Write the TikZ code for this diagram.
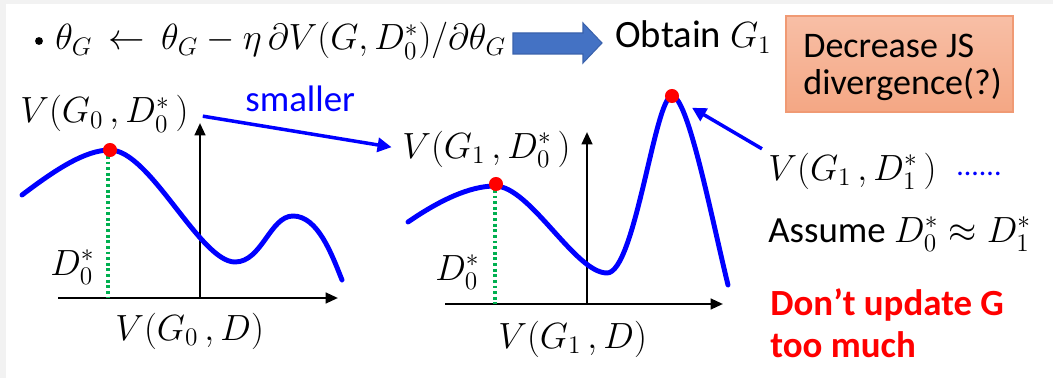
\documentclass[tikz,border=0pt]{standalone}
\usepackage{fontspec}
\setmainfont{Carlito}
\usetikzlibrary{arrows.meta}
\definecolor{blockblue}{HTML}{4472C4}
\definecolor{blockedge}{HTML}{3A62AC}
\definecolor{boxtop}{HTML}{F8BFA6}
\definecolor{boxbot}{HTML}{F4A784}
\definecolor{boxedge}{HTML}{F09A74}
\definecolor{guidegreen}{HTML}{00B050}
\definecolor{slidegray}{HTML}{F2F2F2}
\begin{document}
\begin{tikzpicture}[x=0.02cm, y=-0.02cm,
    txt/.style={inner sep=0pt, font=\fontsize{21}{24}\selectfont},
    curve/.style={line width=2.8pt, blue, line cap=round},
    axis/.style={line width=1.4pt, -{Triangle[length=7pt,width=6pt]}},
    guide/.style={guidegreen, line width=1.8pt, dash pattern=on 1.6pt off 1.6pt},
    reddot/.style={circle, fill=red, inner sep=0pt, minimum size=8pt},
    pointer/.style={blue, line width=2pt, -{Triangle[length=8pt,width=8pt]}}]
    % --- 背景 ---
    \fill[slidegray] (0,0) rectangle (1053,378);
    \fill[white] (6,4) rectangle (1053,378);

    % --- 第一行：更新公式 ---
    \node[circle, fill=black, inner sep=0pt, minimum size=4.5pt] (bullet) at (39,41) {};
    \node[txt, font=\fontsize{22}{24}\selectfont, anchor=base west] (update) at (55,50)
        {$\theta_G \,\leftarrow\, \theta_G - \eta\,\partial V(G,D_0^*)/\partial\theta_G$};
    % 蓝色块箭头
    \fill[blockblue, draw=blockedge, line width=0.6pt]
        (513,33) -- (583,33) -- (583,23) -- (602,43) -- (583,63) -- (583,54) -- (513,54) -- cycle;
    \node[txt, font=\fontsize{22}{24}\selectfont, anchor=base west] (obtain) at (615,48) {Obtain $G_1$};
    % 橙色框
    \path[draw=boxedge, line width=0.8pt, top color=boxtop, bottom color=boxbot]
        (786,16) rectangle (1013,112);
    \node[txt, font=\fontsize{20.5}{21.5}\selectfont, align=left, anchor=base west] (jstext) at (803,95)
        {Decrease JS\\divergence(?)};

    % --- 左图：G0 ---
    \coordinate (o0) at (200,298);
    \draw[axis] (58,298) -- (338,298);
    \draw[axis] (o0) -- (200,123);
    \draw[curve] (22,195) .. controls (55,170) and (85,150) .. (110,150)
        .. controls (150,150) and (200,262) .. (235,262)
        .. controls (262,262) and (270,216) .. (293,216)
        .. controls (318,216) and (332,255) .. (342,280);
    \draw[guide] (108,156) -- (108,298);
    \node[reddot] (p0) at (110,150) {};
    \node[txt, anchor=base west] (v00) at (20,123) {$V(G_0\,,D_0^*\,)$};
    \node[txt, anchor=base west] (d0a) at (50,275) {$D_0^*$};
    \node[txt, anchor=base west] (v0d) at (115,340) {$V(G_0\,,D)$};

    % --- smaller 箭头 ---
    \node[txt, blue, anchor=base west] (smaller) at (245,112) {smaller};

    % --- 右图：G1 ---
    \coordinate (o1) at (587,304);
    \draw[axis] (445,304) -- (723,304);
    \draw[axis] (o1) -- (587,132);
    \draw[curve] (408,222) .. controls (440,200) and (470,186) .. (495,186)
        .. controls (530,186) and (575,273) .. (607,273)
        .. controls (635,273) and (655,96) .. (672,96)
        .. controls (688,96) and (712,220) .. (728,285);
    \draw[guide] (495,190) -- (495,304);
    \node[reddot] (p1) at (496,184) {};
    \node[reddot] (p1top) at (672,96) {};
    \node[txt, anchor=base west] (v10) at (402,158) {$V(G_1\,,D_0^*\,)$};
    \node[txt, anchor=base west] (d0b) at (435,280) {$D_0^*$};
    \node[txt, anchor=base west] (v1d) at (498,348) {$V(G_1\,,D)$};

    % --- 右侧说明 ---
    \node[txt, anchor=base west] (v11) at (768,180) {$V(G_1\,,D_1^*\,)$};
    \node[txt, blue, font=\fontsize{17}{20}\selectfont, anchor=base west] (etc) at (956,175) {......};
    \node[txt, anchor=base west] (assume) at (768,242) {Assume $D_0^*\approx D_1^*$};
    \node[txt, red, anchor=north west, align=left, font=\bfseries\fontsize{21}{24}\selectfont]
        (warn) at (770,288) {Don’t update G\\too much};

    % --- 指示箭头 ---
    \draw[pointer, shorten <=8pt, shorten >=6pt] (v00.east) -- (v10.west);
    \draw[pointer, shorten <=4pt, shorten >=9pt] (v11.north west) -- (p1top);
\end{tikzpicture}
\end{document}
